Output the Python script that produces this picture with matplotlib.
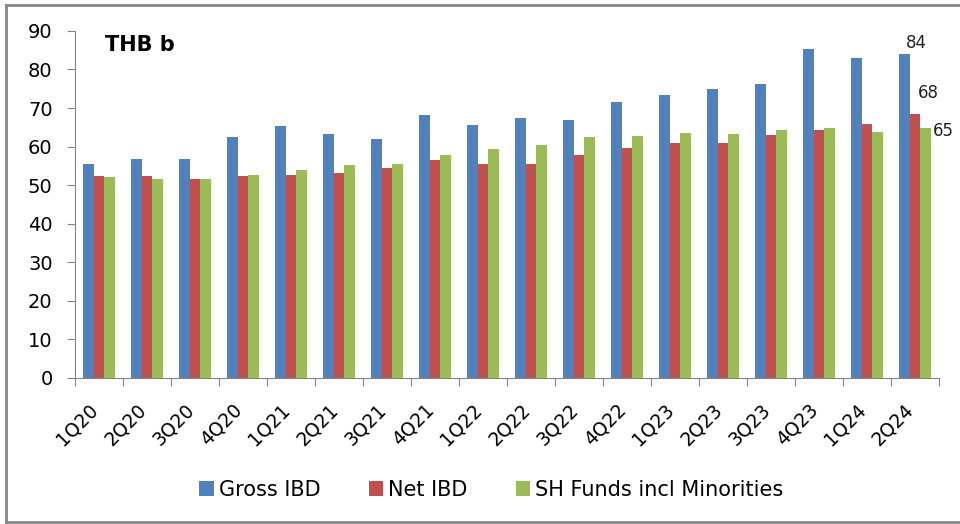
import numpy as np
import matplotlib
matplotlib.use("Agg")
import matplotlib.pyplot as plt
from matplotlib.lines import Line2D

quarters = ["1Q20", "2Q20", "3Q20", "4Q20", "1Q21", "2Q21", "3Q21", "4Q21", "1Q22",
            "2Q22", "3Q22", "4Q22", "1Q23", "2Q23", "3Q23", "4Q23", "1Q24", "2Q24"]
gross_ibd = [55.6, 56.8, 56.8, 62.4, 65.3, 63.3, 61.9, 68.1, 65.5,
             67.5, 66.8, 71.5, 73.5, 74.9, 76.3, 85.3, 83.1, 83.9]
net_ibd = [52.3, 52.3, 51.7, 52.3, 52.6, 53.1, 54.5, 56.5, 55.4,
           55.4, 57.7, 59.6, 60.8, 61.0, 63.0, 64.4, 65.8, 68.4]
sh_funds = [52.0, 51.7, 51.7, 52.6, 53.9, 55.2, 55.6, 57.7, 59.3,
            60.4, 62.4, 62.7, 63.5, 63.3, 64.2, 64.8, 63.9, 64.8]
series_names = ["Gross IBD", "Net IBD", "SH Funds incl Minorities"]
colors = ["#4f81bd", "#c0504d", "#9bbb59"]
last_labels = ["84", "68", "65"]

plt.rcParams["font.family"] = ["DejaVu Sans"]

fig = plt.figure(figsize=(9.6, 5.24), dpi=100)
ax = fig.add_axes([0.078, 0.279, 0.900, 0.662])

x = np.arange(len(quarters))
w = 0.22
series = [gross_ibd, net_ibd, sh_funds]
bars = []
for i, (vals, name, c) in enumerate(zip(series, series_names, colors)):
    b = ax.bar(x + (i - 1) * w, vals, w, color=c, label=name, zorder=2)
    bars.append(b)

# labels on the last quarter (offsets in points from bar top centre)
offsets = [(8.6, 8), (10, 15), (13, -2)]
for b, lab, off in zip(bars, last_labels, offsets):
    r = b[-1]
    ax.annotate(lab, (r.get_x() + r.get_width() / 2, r.get_height()),
                xytext=off, textcoords="offset points",
                ha="center", va="center", fontsize=12, color="#222222")

ax.set_xlim(-0.5, len(quarters) - 0.5)
ax.set_ylim(0, 90)
ax.set_yticks(range(0, 91, 10))

# excel style ticks between categories
ax.set_xticks(np.arange(-0.5, len(quarters), 1.0))
ax.set_xticklabels([])
ax.set_xticks(x + 0.06, minor=True)
ax.set_xticklabels(quarters, minor=True, rotation=45, ha="right", va="top",
                   fontsize=13.5)
ax.tick_params(axis="x", which="minor", length=0, pad=16)
ax.tick_params(axis="x", which="major", length=6, color="#868686")
ax.tick_params(axis="y", length=6, color="#868686", pad=10, labelsize=14)

for s in ["top", "right"]:
    ax.spines[s].set_visible(False)
for s in ["left", "bottom"]:
    ax.spines[s].set_color("#868686")

ax.text(0.035, 0.96, "THB b", transform=ax.transAxes, fontsize=15,
        fontweight="bold", ha="left", va="center")

fig.legend(loc="center", bbox_to_anchor=(0.512, 0.065), ncol=3, frameon=False,
           fontsize=15, handlelength=0.7, handleheight=0.7, handletextpad=0.25,
           columnspacing=2.3)

# outer frame: left, top and bottom edges
frame = dict(color="#868686", linewidth=2.0, transform=fig.transFigure)
fig.add_artist(Line2D([0.006, 0.006], [0.004, 0.99], **frame))
fig.add_artist(Line2D([0.006, 1.0], [0.99, 0.99], **frame))
fig.add_artist(Line2D([0.006, 1.0], [0.004, 0.004], **frame))

fig.savefig("out.png", dpi=100)
